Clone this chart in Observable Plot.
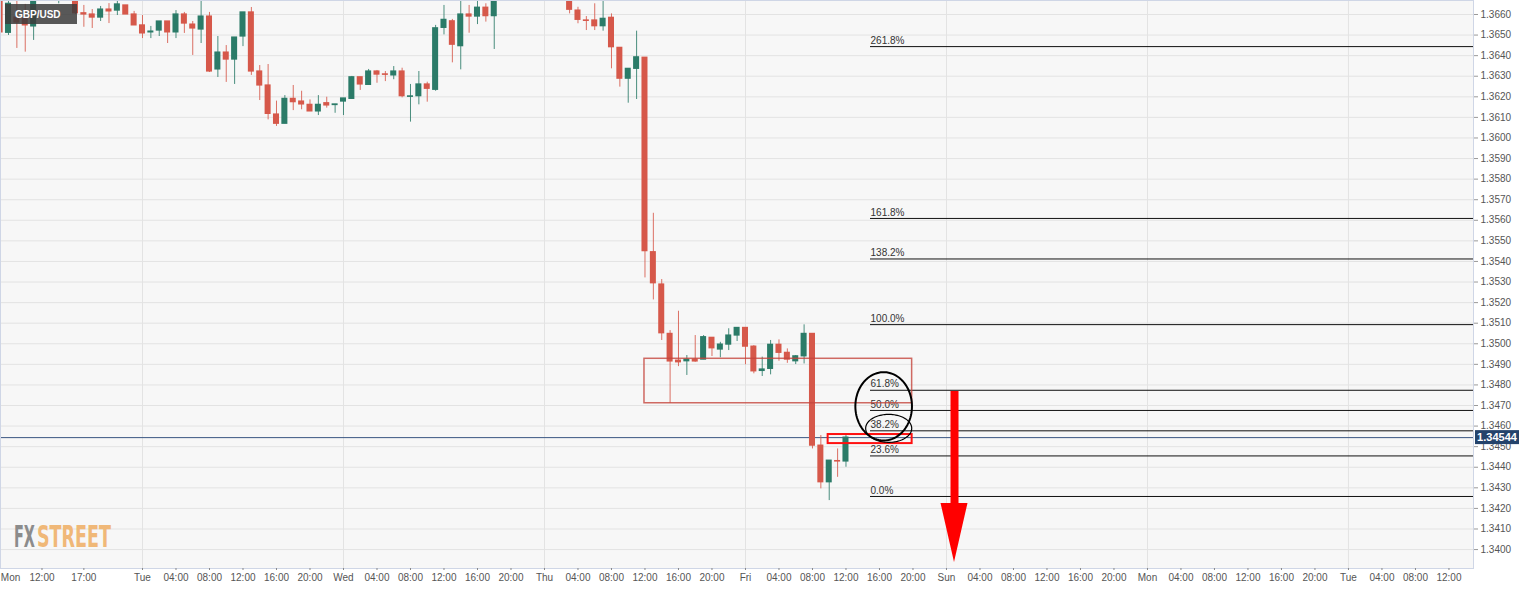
<!DOCTYPE html>
<html><head><meta charset="utf-8">
<script src="https://cdn.jsdelivr.net/npm/d3@7"></script>
<script src="https://cdn.jsdelivr.net/npm/@observablehq/plot@0.6"></script>
<style>
html,body{margin:0;padding:0;background:#fff;}
#chart{width:1536px;height:589px;overflow:hidden;}
</style></head>
<body><div id="chart"></div>
<script>
// ---- Data (hour index: Mon 00:00 = 0, Tue = 24, ... weekend collapsed, Sun = 120) ----
const hours  = [7,8,9,10,11,14,16,17,18,19,20,21,22,23,24,25,26,27,28,29,30,31,32,33,34,35,36,37,38,39,40,41,42,43,44,45,46,47,48,49,50,51,52,53,54,55,56,57,58,59,60,61,62,63,64,65,66,75,76,77,78,79,80,81,82,83,84,85,86,87,88,89,90,91,92,93,94,95,96,97,98,99,100,101,102,103,104,105,106,107,108];
const opens  = [1.3669,1.36511,1.36585,1.36579,1.36542,1.3670,1.3669,1.36606,1.36600,1.36585,1.36624,1.36619,1.36644,1.36600,1.36547,1.36513,1.36522,1.36566,1.36513,1.36600,1.36551,1.36527,1.36590,1.36333,1.36415,1.36381,1.36493,1.36610,1.36323,1.36255,1.36114,1.36069,1.36190,1.36177,1.36161,1.36129,1.36169,1.36160,1.36177,1.36190,1.36295,1.36258,1.36323,1.36309,1.36304,1.36323,1.36200,1.36203,1.36260,1.36234,1.36535,1.36567,1.36446,1.36600,1.36590,1.36633,1.36592,1.3669,1.36619,1.36571,1.36571,1.36543,1.36584,1.36438,1.36288,1.36336,1.36390,1.35445,1.35288,1.35048,1.34918,1.34915,1.34923,1.34923,1.35029,1.34972,1.34996,1.35040,1.35077,1.34986,1.34868,1.34878,1.34995,1.34956,1.34915,1.34939,1.35048,1.34505,1.34327,1.34430,1.34428];
const highs  = [1.3671,1.3668,1.3667,1.36649,1.3672,1.3677,1.3671,1.36644,1.36624,1.36639,1.36653,1.36675,1.36644,1.36615,1.36595,1.36542,1.36566,1.36566,1.36619,1.36610,1.36566,1.3668,1.36610,1.36493,1.36449,1.36488,1.36610,1.36634,1.36352,1.36357,1.36179,1.36206,1.36255,1.36227,1.36185,1.36206,1.36198,1.36163,1.36192,1.36299,1.36295,1.36333,1.36328,1.36323,1.36347,1.36339,1.36260,1.36323,1.36271,1.36547,1.36644,1.36576,1.3668,1.36644,1.3668,1.36652,1.3672,1.3671,1.36635,1.36590,1.36652,1.3668,1.36603,1.36438,1.36336,1.36519,1.36390,1.35634,1.35312,1.35064,1.35158,1.34943,1.35040,1.35040,1.35029,1.35007,1.35073,1.35077,1.35077,1.34991,1.34935,1.35016,1.35019,1.34975,1.34943,1.35092,1.35048,1.34554,1.34432,1.34489,1.34554];
const lows   = [1.36435,1.36498,1.36435,1.36417,1.36474,1.36652,1.36600,1.36538,1.36532,1.36566,1.36556,1.36595,1.36600,1.36547,1.36483,1.36483,1.36493,1.36459,1.36483,1.36508,1.36401,1.36459,1.36318,1.36294,1.36270,1.36260,1.36444,1.36304,1.36182,1.36088,1.36056,1.36069,1.36133,1.36137,1.36129,1.36109,1.36145,1.36120,1.36109,1.36187,1.36231,1.36258,1.36266,1.36274,1.36283,1.36195,1.36077,1.36161,1.36174,1.36227,1.36501,1.36365,1.36331,1.36509,1.36551,1.36563,1.36430,1.36603,1.36555,1.36522,1.36522,1.36519,1.36336,1.36247,1.36169,1.36187,1.35320,1.35213,1.35016,1.34711,1.34889,1.34846,1.34910,1.34923,1.34938,1.34932,1.34967,1.35011,1.34898,1.34854,1.34841,1.34849,1.34915,1.34905,1.34899,1.34902,1.34489,1.34295,1.34238,1.34351,1.34400];
const closes = [1.36513,1.36652,1.36561,1.36547,1.3668,1.3674,1.36606,1.36600,1.36585,1.36624,1.36615,1.36649,1.36600,1.36547,1.36508,1.36517,1.36566,1.36513,1.36600,1.36556,1.36532,1.36590,1.36323,1.36415,1.36381,1.36488,1.36610,1.36323,1.36255,1.36117,1.36069,1.36190,1.36174,1.36163,1.36129,1.36161,1.36158,1.36163,1.36192,1.36295,1.36260,1.36323,1.36308,1.36307,1.36323,1.36203,1.36202,1.36260,1.36239,1.36533,1.36574,1.36453,1.36600,1.36590,1.36633,1.36592,1.3668,1.36623,1.36574,1.36569,1.36543,1.36579,1.36441,1.36288,1.36336,1.36392,1.35450,1.35294,1.35051,1.34914,1.34910,1.34923,1.34914,1.35032,1.34978,1.34996,1.35040,1.35077,1.34986,1.34866,1.34875,1.34995,1.34956,1.34923,1.34939,1.35048,1.34505,1.34327,1.34432,1.34428,1.34544];

const lastPrice = 1.34544;
const symbol = "GBP/USD";
const brand = ["FX", "STREET"];

const fibLabels = ["0.0%","23.6%","38.2%","50.0%","61.8%","100.0%","138.2%","161.8%","261.8%"];
const fibLevels = [1.34258,1.34455,1.34577,1.34676,1.34774,1.35093,1.35412,1.35609,1.36444];

const yTicks = [1.3400,1.3410,1.3420,1.3430,1.3440,1.3450,1.3460,1.3470,1.3480,1.3490,1.3500,1.3510,1.3520,1.3530,1.3540,1.3550,1.3560,1.3570,1.3580,1.3590,1.3600,1.3610,1.3620,1.3630,1.3640,1.3650,1.3660];
const xTickHours  = [12,17,24,28,32,36,40,44,48,52,56,60,64,68,72,76,80,84,88,92,96,100,104,108,112,116,120,124,128,132,136,140,144,148,152,156,160,164,168,172,176,180];
const xTickLabels = ["12:00","17:00","Tue","04:00","08:00","12:00","16:00","20:00","Wed","04:00","08:00","12:00","16:00","20:00","Thu","04:00","08:00","12:00","16:00","20:00","Fri","04:00","08:00","12:00","16:00","20:00","Sun","04:00","08:00","12:00","16:00","20:00","Mon","04:00","08:00","12:00","16:00","20:00","Tue","04:00","08:00","12:00"];
const dayHours = [24,48,72,96,120,144,168];

// zone boxes (hours / prices)
const zoneBox   = {h1: 83.94, h2: 115.9, p1: 1.34711, p2: 1.34927};
const entryBox  = {h1: 105.87, h2: 115.9, p1: 1.34515, p2: 1.34559};
const ellipses  = [{cx: 112.5, cy: 1.34696, rx: 3.38, ry: 0.00166, w: 2}, {cx: 113.1, cy: 1.34589, rx: 2.75, ry: 0.00068, w: 1.2}];
const arrow     = {h: 120.96, top: 1.34768, base: 1.34224, tip: 1.33937, half: 1.61};

// ---- build ----
const candles = hours.map((h, i) => ({h, open: opens[i], high: highs[i], low: lows[i], close: closes[i]}));
const RED = "#d6584a", GREEN = "#2b7b68";
const col = d => d.close >= d.open ? GREEN : RED;
const labelMap = new Map(xTickHours.map((h, i) => [h, xTickLabels[i]]));

function ellipsePts(e) {
  const pts = [];
  for (let k = 0; k < 90; k++) {
    const t = (k / 90) * 2 * Math.PI;
    pts.push({x: e.cx + e.rx * Math.cos(t), y: e.cy + e.ry * Math.sin(t)});
  }
  return pts;
}

const plot = Plot.plot({
  width: 1536,
  height: 589,
  marginLeft: 0,
  marginRight: 63,
  marginTop: 0,
  marginBottom: 21,
  style: {fontFamily: "'Liberation Sans', Arial, sans-serif", fontSize: "10px", color: "#555", background: "#fff"},
  x: {type: "linear", domain: [7.045, 182.93], label: null},
  y: {type: "linear", domain: [1.33908, 1.36668], label: null},
  marks: [
    Plot.frame({fill: "#f7f7f7", stroke: null}),
    Plot.gridY({ticks: yTicks, stroke: "#e3e3e3", strokeOpacity: 1}),
    Plot.gridX({ticks: dayHours, stroke: "#e3e3e3", strokeOpacity: 1}),
    Plot.ruleY([lastPrice], {stroke: "#3b5783", strokeWidth: 1}),
    // fibonacci levels
    Plot.ruleY(fibLevels, {x1: 110.93, x2: 182.93, stroke: "#111", strokeWidth: 1}),
    Plot.text(fibLevels, {x: 110.93, y: d => d, text: (d, i) => fibLabels[i], textAnchor: "start", dy: -6, fill: "#333", fontSize: 10}),
    // candles
    Plot.ruleX(candles, {x: "h", y1: "low", y2: "high", stroke: col, strokeOpacity: 0.85, clip: true}),
    Plot.rect(candles, {x1: d => d.h - 0.36, x2: d => d.h + 0.36, y1: "open", y2: "close", fill: col, insetTop: -0.6, insetBottom: -0.6, clip: true}),
    // zone rectangle
    Plot.rect([zoneBox], {x1: "h1", x2: "h2", y1: "p1", y2: "p2", fill: "none", stroke: "#c4453c", strokeOpacity: 0.8, strokeWidth: 1.5}),
    Plot.rect([entryBox], {x1: "h1", x2: "h2", y1: "p1", y2: "p2", fill: "none", stroke: "#ff1010", strokeWidth: 2}),
    // ellipses
    ...ellipses.map(e => Plot.line(ellipsePts(e), {x: "x", y: "y", stroke: "#000", strokeWidth: e.w, curve: "linear-closed"})),
    // arrow
    Plot.ruleX([arrow], {x: "h", y1: "top", y2: "base", stroke: "#ff0000", strokeWidth: 8}),
    Plot.areaY([
      {x: arrow.h - arrow.half, y1: arrow.base, y2: arrow.base},
      {x: arrow.h, y1: arrow.base, y2: arrow.tip},
      {x: arrow.h + arrow.half, y1: arrow.base, y2: arrow.base}
    ], {x: "x", y1: "y1", y2: "y2", fill: "#ff0000"}),
    // border
    Plot.frame({stroke: "#cfd6e6"}),
    // axes
    Plot.axisY({anchor: "right", ticks: yTicks, tickFormat: d => d.toFixed(4), tickSize: 4, tickPadding: 3, stroke: "#999", fill: "#555", fontSize: 10, label: null}),
    Plot.axisX({ticks: xTickHours, tickFormat: d => labelMap.get(d), tickSize: 2, tickPadding: 3, stroke: "#888", fill: "#555", fontSize: 10, label: null}),
    Plot.axisX({ticks: [8.25], tickFormat: () => "Mon", tickSize: 0, tickPadding: 5, fill: "#555", fontSize: 10, label: null})
  ]
});

document.getElementById("chart").appendChild(plot);

// overlays drawn with the plot's own scales
const svg = d3.select(plot);
const ys = plot.scale("y");
const py = ys.apply(lastPrice);
const g = svg.append("g").attr("text-anchor", "start");
g.append("rect").attr("x", 1475).attr("y", py - 7).attr("width", 44).attr("height", 14).attr("fill", "#24436b");
g.append("text").attr("x", 1497).attr("y", py + 4).attr("text-anchor", "middle")
  .attr("fill", "#fff").attr("font-weight", "bold").attr("font-size", 11)
  .attr("font-family", "'Liberation Sans', Arial, sans-serif").text(lastPrice.toFixed(5));

// symbol label
g.append("rect").attr("x", 5).attr("y", 4).attr("width", 72).attr("height", 20).attr("fill", "#3c3c3c").attr("fill-opacity", 0.85);
g.append("text").attr("x", 15).attr("y", 18).attr("text-anchor", "start").attr("fill", "#fff").attr("font-weight", "bold").attr("font-size", 10)
  .attr("font-family", "'Liberation Sans', Arial, sans-serif").text(symbol);

// watermark: each word horizontally squeezed (via transform) to its reference width
const wmFont = "'DejaVu Sans Condensed', 'DejaVu Sans', sans-serif";
[[brand[0], 14, 21, "#8c8c8c"], [brand[1], 37, 74, "#f0b878"]].forEach(([word, x0, target, fill]) => {
  const wg = g.append("g");
  const t = wg.append("text").attr("x", 0).attr("y", 0).attr("text-anchor", "start")
    .attr("font-size", 30).attr("font-weight", "bold").attr("font-family", wmFont)
    .attr("fill", fill).text(word);
  const w = t.node().getComputedTextLength() || target;
  wg.attr("transform", `translate(${x0},547) scale(${target / w},1)`);
});
</script>
</body></html>
